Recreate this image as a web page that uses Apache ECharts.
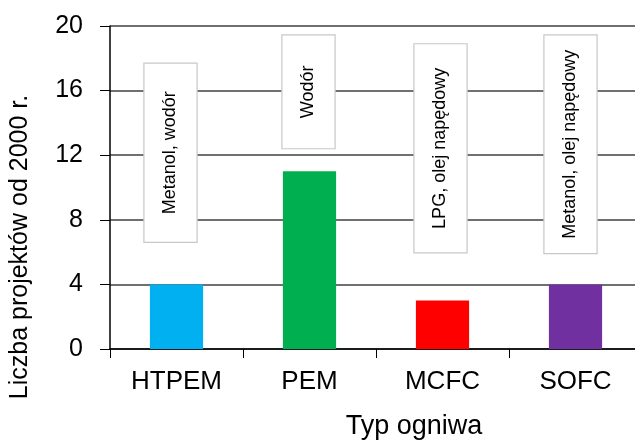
<!DOCTYPE html>
<html><head><meta charset="utf-8">
<script src="https://cdn.jsdelivr.net/npm/echarts@6/dist/echarts.min.js"></script>
<style>html,body{margin:0;padding:0;background:#fff}#c{width:635px;height:441px}</style>
</head><body><div id="c"></div>
<script>
const categories = ['HTPEM', 'PEM', 'MCFC', 'SOFC'];
const projectCounts = [4, 11, 3, 4];
const barColors = ['#00b0f0', '#00b050', '#ff0000', '#7030a0'];
const fuelLabels = ['Metanol, wodór', 'Wodór', 'LPG, olej napędowy', 'Metanol, olej napędowy'];
const boxLow = [6.6, 12.4, 5.95, 5.9];
const boxHigh = [17.7, 19.45, 18.9, 19.45];
const yTicks = [0, 4, 8, 12, 16, 20];

const boxShift = [-6, -1, -2, -5];
const FONT = 'Liberation Sans, Arial, sans-serif';

const chart = echarts.init(document.getElementById('c'));
chart.setOption({
  animation: false,
  grid: { left: 110, right: -7, top: 26, bottom: 92, containLabel: false, outerBoundsMode: 'none' },
  xAxis: {
    type: 'category', data: categories,
    name: 'Typ ogniwa', nameLocation: 'middle', nameGap: 64,
    nameTextStyle: { color: '#000', fontSize: 27, fontFamily: FONT, padding: [0, 0, 0, 76] },
    axisLine: { lineStyle: { color: '#000', width: 1.5 } },
    axisTick: { show: true, length: 9, lineStyle: { color: '#000' }, alignWithLabel: false },
    axisLabel: { color: '#000', fontSize: 26, fontFamily: FONT, margin: 20 },
    splitLine: { show: false }
  },
  yAxis: {
    type: 'value', min: 0, max: 20, interval: 4,
    name: 'Liczba projektów od 2000 r.', nameLocation: 'middle', nameGap: 77,
    nameTextStyle: { color: '#000', fontSize: 25, fontFamily: FONT, padding: [0, 119, 0, 0] },
    axisLine: { show: true, lineStyle: { color: '#000', width: 1.5 } },
    axisTick: { show: true, length: 10, lineStyle: { color: '#000' } },
    axisLabel: { color: '#000', fontSize: 25, fontFamily: FONT, margin: 27,
      formatter: v => yTicks.includes(v) ? String(v) : '' },
    splitLine: { show: true, lineStyle: { color: '#404040', width: 1.5 } }
  },
  series: [
    {
      type: 'bar', barWidth: '40%',
      data: projectCounts.map((v, i) => ({ value: v, itemStyle: { color: barColors[i] } })),
      z: 2
    },
    {
      type: 'custom', z: 3,
      data: categories.map((c, i) => [i, boxLow[i], boxHigh[i]]),
      renderItem: function (params, api) {
        const i = api.value(0);
        const top = api.coord([i, api.value(2)]);
        const bot = api.coord([i, api.value(1)]);
        const w = api.size([1, 0])[0] * 0.4;
        const cx = top[0] + boxShift[params.dataIndex];
        return {
          type: 'group',
          children: [
            { type: 'rect', shape: { x: cx - w / 2, y: top[1], width: w, height: bot[1] - top[1] },
              style: { fill: '#fff', stroke: '#c8c8c8', lineWidth: 1.2 } },
            { type: 'text', x: cx, y: (top[1] + bot[1]) / 2, rotation: Math.PI / 2,
              style: { text: fuelLabels[params.dataIndex], fill: '#000', fontSize: 18,
                fontFamily: FONT, align: 'center', verticalAlign: 'middle' } }
          ]
        };
      }
    }
  ]
});
</script></body></html>
